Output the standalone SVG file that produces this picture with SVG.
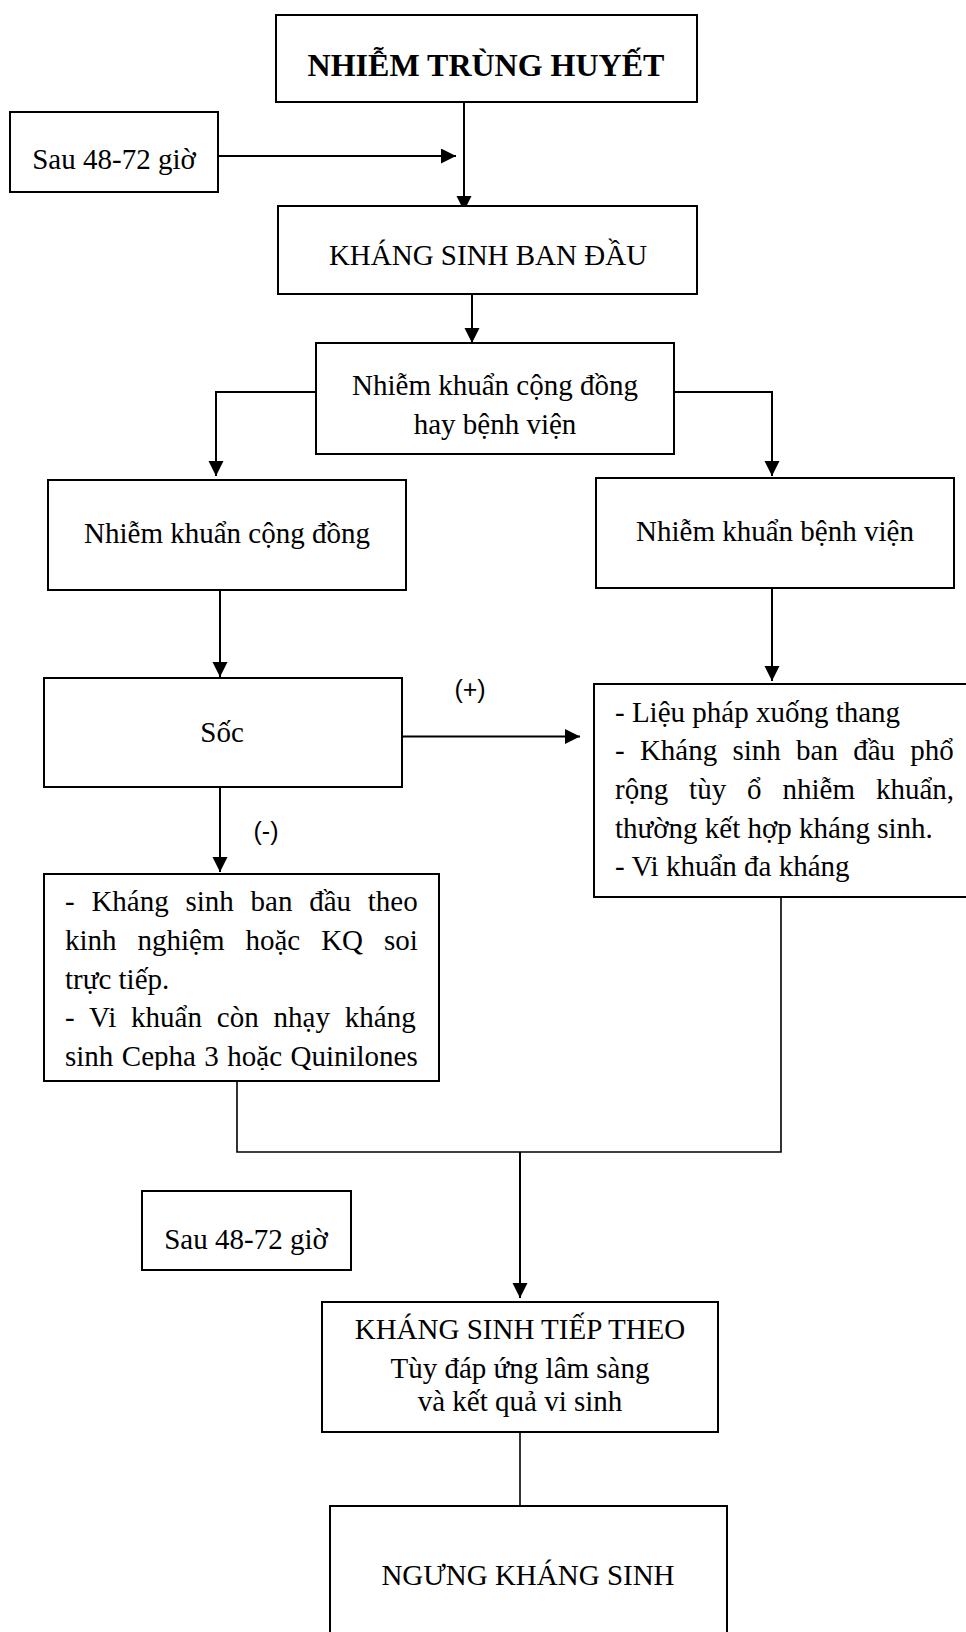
<svg xmlns="http://www.w3.org/2000/svg" width="966" height="1632" viewBox="0 0 966 1632">
<style>
.box{fill:#fff;stroke:#000;stroke-width:2}
.t{font-family:"Liberation Serif","Times New Roman",serif;font-size:29px;fill:#000}
.c{text-anchor:middle}
.b{font-weight:bold;font-size:32px}
.lbl{font-family:"Liberation Sans",Arial,sans-serif;font-size:25px;fill:#000;text-anchor:middle}
.ln{fill:none;stroke:#000;stroke-width:2}
.ln2{fill:none;stroke:#000;stroke-width:1.6}
</style>
<defs>
<marker id="ah" markerUnits="userSpaceOnUse" markerWidth="16" markerHeight="16" refX="15" refY="7.5" orient="auto">
<path d="M0,0 L15,7.5 L0,15 z" fill="#000"/>
</marker>
<clipPath id="clipL"><rect x="40" y="870" width="400" height="200"/></clipPath>
</defs>
<rect width="966" height="1632" fill="#fff"/>

<g id="connectors">
<path class="ln" d="M218,156 H456" marker-end="url(#ah)"/>
<path class="ln" d="M464,102 V211" marker-end="url(#ah)"/>
<path class="ln" d="M472,294 V343" marker-end="url(#ah)"/>
<path class="ln" d="M316,392 H216 V476" marker-end="url(#ah)"/>
<path class="ln" d="M674,392 H772 V476" marker-end="url(#ah)"/>
<path class="ln" d="M220,590 V677" marker-end="url(#ah)"/>
<path class="ln" d="M772,588 V681" marker-end="url(#ah)"/>
<path class="ln" d="M402,736.5 H580" marker-end="url(#ah)"/>
<path class="ln" d="M220,787 V872" marker-end="url(#ah)"/>
<path class="ln2" d="M237,1081 V1152 H781 V897"/>
<path class="ln" d="M520,1152 V1298" marker-end="url(#ah)"/>
<path class="ln2" d="M520,1432 V1506"/>
<text class="lbl" x="470" y="698">(+)</text>
<text class="lbl" x="266" y="840">(-)</text>
</g>

<g id="n-nhiem-trung-huyet">
<rect class="box" x="276" y="15" width="421" height="87"/>
<text class="t c b" x="486" y="76">NHIỄM TRÙNG HUYẾT</text>
</g>

<g id="n-sau1">
<rect class="box" x="10" y="112" width="208" height="80"/>
<text class="t c" x="114" y="169">Sau 48-72 giờ</text>
</g>

<g id="n-ks-ban-dau">
<rect class="box" x="278" y="206" width="419" height="88"/>
<text class="t c" x="488" y="265">KHÁNG SINH BAN ĐẦU</text>
</g>

<g id="n-cong-dong-hay-benh-vien">
<rect class="box" x="316" y="343" width="358" height="111"/>
<text class="t c" x="495" y="395">Nhiễm khuẩn cộng đồng</text>
<text class="t c" x="495" y="434">hay bệnh viện</text>
</g>

<g id="n-cong-dong">
<rect class="box" x="48" y="480" width="358" height="110"/>
<text class="t c" x="227" y="543">Nhiễm khuẩn cộng đồng</text>
</g>

<g id="n-benh-vien">
<rect class="box" x="596" y="478" width="358" height="110"/>
<text class="t c" x="775" y="541">Nhiễm khuẩn bệnh viện</text>
</g>

<g id="n-soc">
<rect class="box" x="44" y="678" width="358" height="109"/>
<text class="t c" x="222" y="742">Sốc</text>
</g>

<g id="n-bv-detail">
<rect class="box" x="594" y="684" width="380" height="213"/>
<text class="t" x="615" y="722">- Liệu pháp xuống thang</text>
<text class="t" x="615" y="760" word-spacing="8">- Kháng sinh ban đầu phổ</text>
<text class="t" x="615" y="799" word-spacing="13.7">rộng tùy ổ nhiễm khuẩn,</text>
<text class="t" x="615" y="838">thường kết hợp kháng sinh.</text>
<text class="t" x="615" y="876">- Vi khuẩn đa kháng</text>
</g>

<g id="n-cd-detail">
<rect class="box" x="44" y="874" width="395" height="207"/>
<g clip-path="url(#clipL)">
<text class="t" x="65" y="911" word-spacing="9.5">- Kháng sinh ban đầu theo</text>
<text class="t" x="65" y="950" word-spacing="13.7">kinh nghiệm hoặc KQ soi</text>
<text class="t" x="65" y="989">trực tiếp.</text>
<text class="t" x="65" y="1027" word-spacing="7.6">- Vi khuẩn còn nhạy kháng</text>
<text class="t" x="65" y="1066" word-spacing="1.2">sinh Cepha 3 hoặc Quinilones</text>
</g>
</g>

<g id="n-sau2">
<rect class="box" x="142" y="1191" width="209" height="79"/>
<text class="t c" x="246" y="1249">Sau 48-72 giờ</text>
</g>

<g id="n-ks-tiep-theo">
<rect class="box" x="322" y="1302" width="396" height="130"/>
<text class="t c" x="520" y="1339">KHÁNG SINH TIẾP THEO</text>
<text class="t c" x="520" y="1378">Tùy đáp ứng lâm sàng</text>
<text class="t c" x="520" y="1411">và kết quả vi sinh</text>
</g>

<g id="n-ngung">
<rect class="box" x="330" y="1506" width="397" height="140"/>
<text class="t c" x="528" y="1585">NGƯNG KHÁNG SINH</text>
</g>
</svg>
